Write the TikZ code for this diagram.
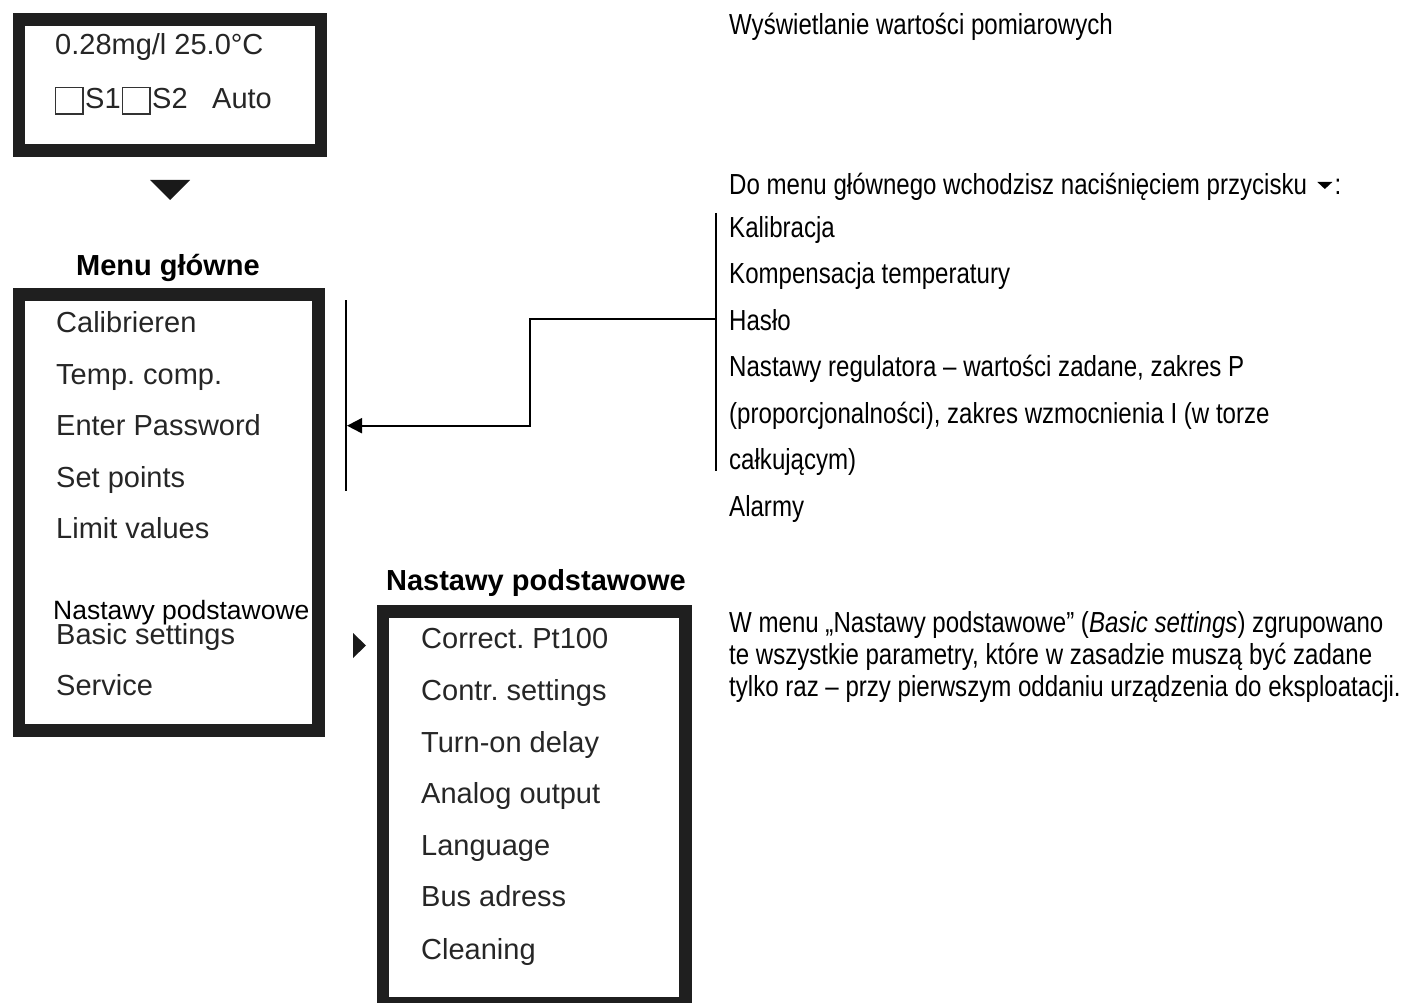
\documentclass[tikz,border=0pt]{standalone}
\usepackage{fontspec}
\setmainfont{Liberation Sans}
\newfontfamily\narrowfont[FakeStretch=0.83]{Liberation Sans}
\usetikzlibrary{arrows.meta}
\frenchspacing

\begin{document}
\begin{tikzpicture}[x=1pt,y=-1pt,
  lcd/.style={draw=black!88, line width=12.6pt},
  item/.style={anchor=base west, inner sep=0pt, text=black!85,
    font=\fontsize{29}{34}\selectfont},
  head/.style={anchor=base, inner sep=0pt, font=\bfseries\fontsize{29}{34}\selectfont},
  note/.style={anchor=base west, inner sep=0pt, font=\narrowfont\fontsize{29}{34}\selectfont},
  para/.style={anchor=base west, inner sep=0pt, font=\narrowfont\fontsize{29}{32}\selectfont},
  wire/.style={line width=2pt, black},
  chk/.style={draw=black!80, line width=1.2pt},
]
\useasboundingbox (0,0) rectangle (1403,1003);
\fill[white] (0,0) rectangle (1403,1003);

% ---- measured-value display ----
\draw[lcd] (18.8,19.3) rectangle (321,150.7);
\node[item] (val) at (55,55) {0.28mg/l 25.0°C};
\draw[chk] (55.5,87.5) rectangle (83,114);
\node[item] (s1) at (85,109) {S1};
\draw[chk] (122.5,87.5) rectangle (150,114);
\node[item] (s2) at (152,109) {S2};
\node[item] (auto) at (212,109) {Auto};

% key arrow down
\fill[black!90] (150,180) -- (190,180) -- (170,200) -- cycle;

% ---- main menu ----
\node[head] (mhead) at (168,276) {Menu główne};
\draw[lcd] (18.8,294.5) rectangle (318.6,730.5);
\node[item] (m1) at (56,332) {Calibrieren};
\node[item] (m2) at (56,384) {Temp. comp.};
\node[item] (m3) at (56,435) {Enter Password};
\node[item] (m4) at (56,487) {Set points};
\node[item] (m5) at (56,538) {Limit values};
\node[anchor=base west, inner sep=0pt, font=\fontsize{26.5}{30}\selectfont] (m6pl) at (53,619) {Nastawy podstawowe};
\node[item] (m6) at (56,644) {Basic settings};
\node[item] (m7) at (56,695) {Service};

% pointer to the basic settings submenu
\fill[black!90] (353,633) -- (366,645.5) -- (353,658) -- cycle;

% ---- basic settings submenu ----
\node[head] (bhead) at (536,590) {Nastawy podstawowe};
\draw[lcd] (383,611.5) rectangle (685.5,1003.5);
\node[item] (b1) at (421,648) {Correct. Pt100};
\node[item] (b2) at (421,700) {Contr. settings};
\node[item] (b3) at (421,752) {Turn-on delay};
\node[item] (b4) at (421,803) {Analog output};
\node[item] (b5) at (421,855) {Language};
\node[item] (b6) at (421,906) {Bus adress};
\node[item] (b7) at (421,959) {Cleaning};

% ---- descriptions ----
\node[note] (t0) at (729,35) {Wyświetlanie wartości pomiarowych};
\node[note] (dm) at (729,195) {Do menu głównego wchodzisz naciśnięciem przycisku};
\fill ([shift={(10,-13)}]dm.base east) -- ++(15,0) -- ++(-7.5,7) -- cycle;
\node[note] (colon) at ([shift={(27,0)}]dm.base east) {:};
\node[note] (d1) at (729,237) {Kalibracja};
\node[note] (d2) at (729,283.5) {Kompensacja temperatury};
\node[note] (d3) at (729,330) {Hasło};
\node[note] (d4) at (729,376.5) {Nastawy regulatora – wartości zadane, zakres P};
\node[note] (d5) at (729,423) {(proporcjonalności), zakres wzmocnienia I (w torze};
\node[note] (d6) at (729,469.5) {całkującym)};
\node[note] (d7) at (729,516) {Alarmy};

\node[para] (p1) at (729,632) {W menu „Nastawy podstawowe” (\textit{Basic settings}) zgrupowano};
\node[para] (p2) at (729,664) {te wszystkie parametry, które w zasadzie muszą być zadane};
\node[para] (p3) at (729,696) {tylko raz – przy pierwszym oddaniu urządzenia do eksploatacji.};

% ---- brackets and connector ----
\coordinate (rtop) at (716,213);
\coordinate (rbot) at (716,471);
\coordinate (ltop) at (346,300);
\coordinate (lbot) at (346,491);
\draw[wire] (rtop) -- (rbot);
\draw[wire] (ltop) -- (lbot);
\coordinate (src) at (716,319);
\coordinate (dst) at (347,425.7);
\coordinate (knee) at (530,0);
\draw[wire, -{Triangle[length=15pt,width=15pt]}]
  (src) -- (src -| knee) -- (knee |- dst) -- (dst);
\end{tikzpicture}
\end{document}
